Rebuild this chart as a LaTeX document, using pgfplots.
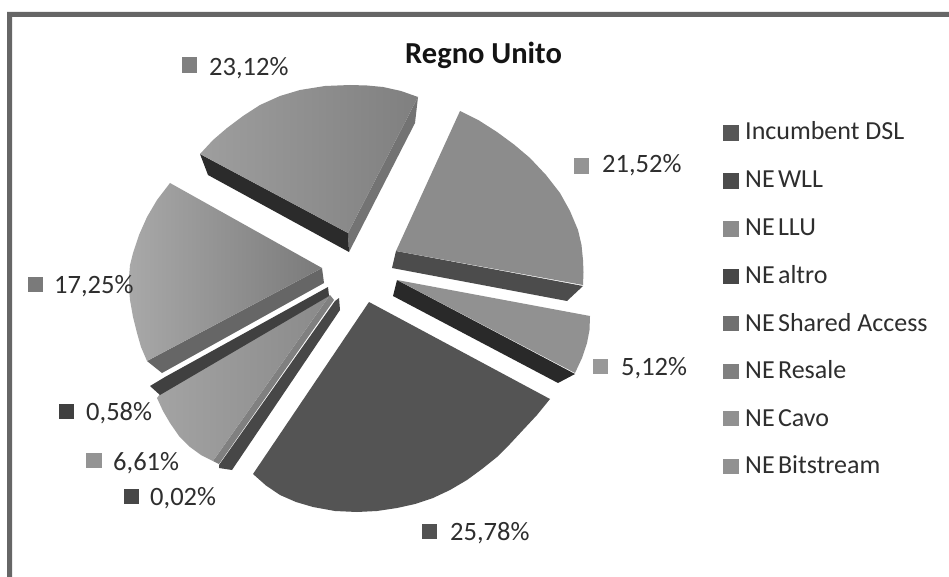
\documentclass[border=0pt]{standalone}
\usepackage{fontspec}
\setmainfont{Carlito}
\usepackage{pgfplots}
\pgfplotsset{compat=1.18}
\definecolor{txt}{HTML}{2e2e2e}
\newcommand{\lab}[3]{\node[anchor=base west,inner sep=0pt,text=txt,font=\fontsize{26.5}{30}\selectfont] at (axis cs:#1,#2) {#3};}
\newcommand{\leg}[2]{\node[anchor=base west,inner sep=0pt,text=txt,font=\fontsize{26}{30}\selectfont] at (axis cs:745,#1) {#2};}
\newcommand{\NE}{NE\hspace{0.13em}}
\pgfplotsset{swatch/.style={only marks, mark=square*, mark size=7.3pt, color=#1, forget plot}}
\begin{document}
\begin{tikzpicture}
\begin{axis}[
  scale only axis, width=949pt, height=577pt,
  xmin=0, xmax=949, ymin=0, ymax=577, y dir=reverse,
  hide axis, clip=false,
]
% background and frame
\addplot[draw=none, fill=white, forget plot] coordinates {(0,0)(949,0)(949,577)(0,577)} -- cycle;
\addplot[draw=none, fill=black!60, forget plot] coordinates {(7,12)(949,12)(949,17)(12,17)(12,577)(7,577)} -- cycle;
% 23,12 %
\addplot[draw=none, fill=black!55, forget plot] coordinates {(418,97)(415,123)(349,252)(348,233)} -- cycle;
\addplot[draw=none, fill=black!83, forget plot] coordinates {(200,154)(208,175)(349,252)(348,233)} -- cycle;
\addplot[draw=none, left color=black!38, right color=black!50, forget plot] coordinates {(200,154)(213,140)(227,128)(243,116)(260,105)(280,96)(300,90)(325,86)(350,85)(367,85.5)(383,87)(401,91)(418,97)(348,233)} -- cycle;
% 21,52 %
\addplot[draw=none, fill=black!70, forget plot] coordinates {(396,251)(392,268)(567,301)(583,286)} -- cycle;
\addplot[draw=none, fill=black!45, forget plot] coordinates {(460,111)(479,120.5)(497,132)(514,144.5)(530,158)(546,175)(560,193)(570,211)(578,230)(581.5,245)(583,260)(583.5,272)(583,285)(396,251)} -- cycle;
% 5,12 %
\addplot[draw=none, fill=black!84, forget plot] coordinates {(397,280)(393,296)(558,383)(575,374)} -- cycle;
\addplot[draw=none, fill=black!43, forget plot] coordinates {(397,280)(590,316)(589.5,330)(587,343)(582,358)(575,373)} -- cycle;
% 25,78 %
\addplot[draw=none, fill=black!67, forget plot] coordinates {(369,302)(253,474)(266,485.5)(280,495)(296,502)(313,507)(335,511)(357,512)(377,511)(397,508)(415,504)(433,498)(450,490)(467,480)(482,469)(497,457)(510,444)(523,430)(537,415)(550,399)} -- cycle;
% 17,25 %
\addplot[draw=none, fill=black!60, forget plot] coordinates {(147,361)(162,373)(324,283)(322,268)} -- cycle;
\addplot[draw=none, left color=black!34, right color=black!52, forget plot] coordinates {(170,183)(157,200)(147,217)(139,235)(133,253)(130,265)(129,277)(129,289)(130,300)(133,317)(137,333)(141,347)(147,361)(322,268)} -- cycle;
% 6,61 %
\addplot[draw=none, fill=black!50, forget plot] coordinates {(330,295)(213,461)(219,464)(334,300)} -- cycle;
\addplot[draw=none, left color=black!36, right color=black!46, forget plot] coordinates {(157,398)(163,411)(170,423)(179,436)(190,447)(201,455)(213,461)(330,295)(160,394)} -- cycle;
% 0,58 %
\addplot[draw=none, fill=black!75, forget plot] coordinates {(150,386)(165,377)(328,287)(329,296)(160,395)} -- cycle;
% 0,02 %
\addplot[draw=none, fill=black!72, forget plot] coordinates {(339,298)(340,310)(232,470)(219,468)(219,465)(335,301)} -- cycle;
% label swatches
\addplot[swatch=black!50] coordinates {(189,65)};
\addplot[swatch=black!42] coordinates {(581,165.5)};
\addplot[swatch=black!40] coordinates {(600,366)};
\addplot[swatch=black!52] coordinates {(35,284)};
\addplot[swatch=black!68] coordinates {(429,531)};
\addplot[swatch=black!75] coordinates {(66,411)};
\addplot[swatch=black!42] coordinates {(93.5,460)};
\addplot[swatch=black!72] coordinates {(131,496)};
% legend swatches
\addplot[swatch=black!66] coordinates {(730.5,133)};
\addplot[swatch=black!70] coordinates {(730.5,181)};
\addplot[swatch=black!45] coordinates {(730.5,229)};
\addplot[swatch=black!72] coordinates {(730.5,276)};
\addplot[swatch=black!56] coordinates {(730.5,323)};
\addplot[swatch=black!50] coordinates {(730.5,371)};
\addplot[swatch=black!43] coordinates {(730.5,418)};
\addplot[swatch=black!43] coordinates {(730.5,466)};
% texts
\node[anchor=base west,inner sep=0pt,text=black!92,font=\fontsize{30.5}{34}\selectfont\bfseries] at (axis cs:405,64) {Regno Unito};
\lab{209}{76}{23,12\%}
\lab{54}{293}{17,25\%}
\lab{602}{173}{21,52\%}
\lab{621}{375}{5,12\%}
\lab{450}{540}{25,78\%}
\lab{86}{420}{0,58\%}
\lab{113}{470}{6,61\%}
\lab{150}{505}{0,02\%}
\leg{140}{Incumbent DSL}
\leg{188}{\NE WLL}
\leg{236}{\NE LLU}
\leg{283}{\NE altro}
\leg{331}{\NE Shared Access}
\leg{378}{\NE Resale}
\leg{426}{\NE Cavo}
\leg{473}{\NE Bitstream}
\end{axis}
\end{tikzpicture}
\end{document}
